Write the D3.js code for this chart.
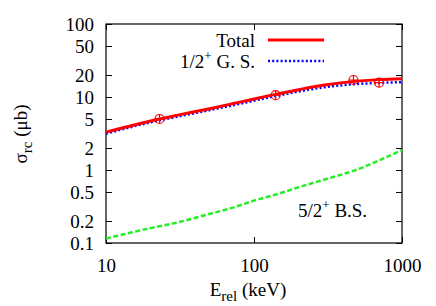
<!DOCTYPE html>
<meta charset="utf-8">
<script src="https://d3js.org/d3.v7.min.js"></script>
<style>
  body { margin: 0; background: #fff; }
  text { font-family: "Liberation Serif", "DejaVu Serif", serif; }
</style>
<div id="chart"></div>
<script>

// curve data
var energy = [10, 20, 30, 50, 70, 100, 150, 200, 300, 500, 700, 1000];
var total  = [3.3, 4.7, 5.6, 6.9, 8.0, 9.4, 11.2, 12.6, 14.6, 16.5, 17.3, 17.8];
var gs     = [3.15, 4.5, 5.35, 6.6, 7.6, 8.9, 10.6, 11.9, 13.6, 15.1, 15.6, 16.0];
var bs     = [0.115, 0.16, 0.19, 0.25, 0.30, 0.38, 0.48, 0.58, 0.74, 1.02, 1.35, 1.88];

// experimental points
var expE = [23, 140, 470, 700];
var expS = [5.0, 10.6, 17.1, 15.7];

var xTicks = [10, 100, 1000];
var yTicks = [0.1, 0.2, 0.5, 1, 2, 5, 10, 20, 50, 100];

var W = 436, H = 306;
var margin = {top: 24, right: 34, bottom: 63, left: 106},
    width = W - margin.left - margin.right,
    height = H - margin.top - margin.bottom;

var svg = d3.select("#chart").append("svg")
    .attr("width", W).attr("height", H);
var g = svg.append("g")
    .attr("transform", "translate(" + margin.left + "," + margin.top + ")");

var x = d3.scaleLog().domain([10, 1000]).range([0, width]);
var y = d3.scaleLog().domain([0.1, 100]).range([height, 0]);

// axes with inward ticks, mirrored
var fmt = function(d){ return String(d); };
g.append("g").attr("transform", "translate(0," + height + ")")
  .call(d3.axisBottom(x).tickValues(xTicks).tickFormat(fmt).tickSizeInner(-6).tickSizeOuter(0).tickPadding(16));
g.append("g")
  .call(d3.axisTop(x).tickValues(xTicks).tickFormat("").tickSizeInner(-6).tickSizeOuter(0));
g.append("g")
  .call(d3.axisLeft(y).tickValues(yTicks).tickFormat(fmt).tickSizeInner(-6).tickSizeOuter(0).tickPadding(12));
g.append("g").attr("transform", "translate(" + width + ",0)")
  .call(d3.axisRight(y).tickValues(yTicks).tickFormat("").tickSizeInner(-6).tickSizeOuter(0));

g.selectAll(".domain").remove();
g.selectAll(".tick text").attr("font-size", 19).attr("fill", "#000")
  .style("font-family", "Liberation Serif, serif");
g.selectAll(".tick line").attr("stroke", "#000");

g.append("rect").attr("width", width).attr("height", height)
  .attr("fill", "none").attr("stroke", "#000").attr("stroke-width", 1.2);

// curves
var line = d3.line()
  .curve(d3.curveMonotoneX)
  .x(function(d){ return x(d[0]); })
  .y(function(d){ return y(d[1]); });

var series = [
  {vals: bs,    color: "#22ee22", dash: "5,2.5", w: 2.5},
  {vals: gs,    color: "#0000ff", dash: "2,2.2", w: 2.5},
  {vals: total, color: "#ff0000", dash: null,    w: 3}
];
series.forEach(function(s){
  g.append("path")
    .datum(energy.map(function(e, i){ return [e, s.vals[i]]; }))
    .attr("fill", "none")
    .attr("stroke", s.color)
    .attr("stroke-width", s.w)
    .attr("stroke-dasharray", s.dash)
    .attr("d", line);
});

// data points: circle with cross
var pts = g.selectAll(".pt").data(expE.map(function(e, i){ return [e, expS[i]]; }))
  .enter().append("g")
  .attr("transform", function(d){ return "translate(" + x(d[0]) + "," + y(d[1]) + ")"; });
pts.append("circle").attr("r", 4.5).attr("fill", "none").attr("stroke", "#ff0000").attr("stroke-width", 1.2);
pts.append("path").attr("d", "M-4.5,0H4.5M0,-4.5V4.5").attr("stroke", "#ff0000").attr("stroke-width", 1.2);

// legend
var leg = [
  {label: "Total", color: "#ff0000", dash: null, w: 3, y: 16},
  {label: "1/2", sup: "+", rest: " G. S.", color: "#0000ff", dash: "2,2.2", w: 2.5, y: 37}
];
leg.forEach(function(l){
  var t = g.append("text").attr("x", 149).attr("y", l.y + 7)
    .attr("text-anchor", "end").attr("font-size", 19);
  t.append("tspan").text(l.label);
  if (l.sup) {
    t.append("tspan").attr("dy", -8).attr("font-size", 13).text(l.sup);
    t.append("tspan").attr("dy", 8).text(l.rest);
  }
  g.append("line").attr("x1", 162).attr("x2", 218).attr("y1", l.y).attr("y2", l.y)
    .attr("stroke", l.color).attr("stroke-width", l.w).attr("stroke-dasharray", l.dash);
});

var bsLabel = g.append("text").attr("x", 192).attr("y", 193).attr("font-size", 19);
bsLabel.append("tspan").text("5/2");
bsLabel.append("tspan").attr("dy", -8).attr("font-size", 13).text("+");
bsLabel.append("tspan").attr("dy", 8).text(" B.S.");

// axis titles
var xl = svg.append("text").attr("x", margin.left + width / 2 - 6).attr("y", 296)
  .attr("text-anchor", "middle").attr("font-size", 19);
xl.append("tspan").text("E");
xl.append("tspan").attr("dy", 5).attr("font-size", 15).text("rel");
xl.append("tspan").attr("dy", -5).text(" (keV)");

var yl = svg.append("text").attr("transform", "translate(27,134) rotate(-90)")
  .attr("text-anchor", "middle").attr("font-size", 19);
yl.append("tspan").text("σ");
yl.append("tspan").attr("dy", 5).attr("font-size", 15).text("rc");
yl.append("tspan").attr("dy", -5).text(" (μb)");

</script>
